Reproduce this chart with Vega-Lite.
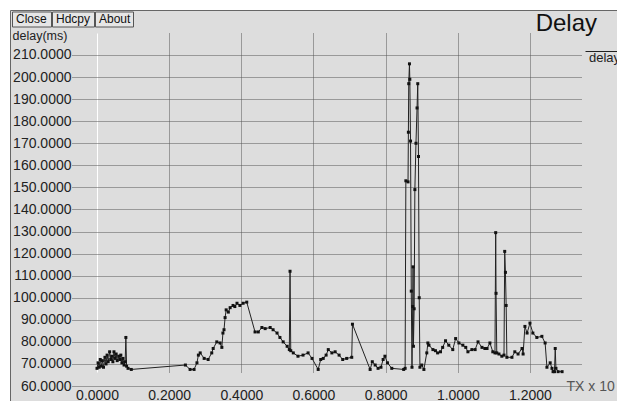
{
  "$schema": "https://vega.github.io/schema/vega-lite/v6.json",
  "autosize": {"type": "none"},
  "padding": {"left": 10, "top": 10, "right": 0, "bottom": 0},
  "width": 610,
  "height": 400,
  "background": "#ffffff",
  "config": {
    "view": {"fill": "#dddddd", "stroke": "#666666", "strokeWidth": 1},
    "font": "Liberation Sans"
  },
  "title": {
    "text": "Delay",
    "anchor": "end",
    "font": "Liberation Sans",
    "fontSize": 24,
    "fontWeight": "normal",
    "color": "#111111",
    "offset": 0,
    "dx": -25,
    "dy": 26
  },
  "data": {
    "values": [
      {"tx": 0.000, "delay": 68.0}, {"tx": 0.003, "delay": 70.5}, {"tx": 0.006, "delay": 68.5},
      {"tx": 0.009, "delay": 72.0}, {"tx": 0.012, "delay": 69.0}, {"tx": 0.015, "delay": 71.5},
      {"tx": 0.018, "delay": 68.5}, {"tx": 0.022, "delay": 73.0}, {"tx": 0.025, "delay": 70.0},
      {"tx": 0.028, "delay": 74.0}, {"tx": 0.031, "delay": 71.0}, {"tx": 0.035, "delay": 75.5},
      {"tx": 0.038, "delay": 72.0}, {"tx": 0.041, "delay": 73.5}, {"tx": 0.044, "delay": 71.0},
      {"tx": 0.047, "delay": 75.5}, {"tx": 0.050, "delay": 72.5}, {"tx": 0.053, "delay": 74.5},
      {"tx": 0.056, "delay": 71.5}, {"tx": 0.060, "delay": 73.5}, {"tx": 0.063, "delay": 72.0},
      {"tx": 0.066, "delay": 74.0}, {"tx": 0.069, "delay": 70.5}, {"tx": 0.072, "delay": 72.5},
      {"tx": 0.075, "delay": 69.5}, {"tx": 0.078, "delay": 71.0}, {"tx": 0.080, "delay": 82.0},
      {"tx": 0.082, "delay": 69.0}, {"tx": 0.086, "delay": 68.0}, {"tx": 0.095, "delay": 67.5},
      {"tx": 0.245, "delay": 69.5}, {"tx": 0.258, "delay": 67.5}, {"tx": 0.269, "delay": 67.5},
      {"tx": 0.277, "delay": 70.5}, {"tx": 0.281, "delay": 74.0}, {"tx": 0.286, "delay": 75.0},
      {"tx": 0.297, "delay": 72.5}, {"tx": 0.308, "delay": 72.0}, {"tx": 0.318, "delay": 75.0},
      {"tx": 0.322, "delay": 77.0}, {"tx": 0.332, "delay": 80.0}, {"tx": 0.341, "delay": 79.5},
      {"tx": 0.346, "delay": 77.5}, {"tx": 0.349, "delay": 84.0}, {"tx": 0.352, "delay": 85.5},
      {"tx": 0.355, "delay": 91.0}, {"tx": 0.358, "delay": 94.5}, {"tx": 0.364, "delay": 93.5},
      {"tx": 0.369, "delay": 95.5}, {"tx": 0.377, "delay": 96.5}, {"tx": 0.382, "delay": 96.0},
      {"tx": 0.388, "delay": 97.5}, {"tx": 0.396, "delay": 96.5}, {"tx": 0.405, "delay": 97.5},
      {"tx": 0.415, "delay": 98.0}, {"tx": 0.438, "delay": 84.5}, {"tx": 0.447, "delay": 84.5},
      {"tx": 0.457, "delay": 86.5}, {"tx": 0.466, "delay": 86.0}, {"tx": 0.480, "delay": 86.5},
      {"tx": 0.488, "delay": 85.5}, {"tx": 0.499, "delay": 84.0}, {"tx": 0.507, "delay": 82.0},
      {"tx": 0.516, "delay": 80.0}, {"tx": 0.527, "delay": 78.0}, {"tx": 0.533, "delay": 76.5},
      {"tx": 0.535, "delay": 112.0}, {"tx": 0.537, "delay": 76.0}, {"tx": 0.544, "delay": 75.0},
      {"tx": 0.557, "delay": 73.5}, {"tx": 0.571, "delay": 74.0}, {"tx": 0.585, "delay": 75.0},
      {"tx": 0.596, "delay": 72.5}, {"tx": 0.613, "delay": 67.5}, {"tx": 0.620, "delay": 72.0},
      {"tx": 0.627, "delay": 72.5}, {"tx": 0.635, "delay": 74.0}, {"tx": 0.641, "delay": 76.5},
      {"tx": 0.651, "delay": 75.0}, {"tx": 0.660, "delay": 75.5}, {"tx": 0.671, "delay": 74.0},
      {"tx": 0.681, "delay": 72.0}, {"tx": 0.692, "delay": 72.5}, {"tx": 0.706, "delay": 73.0},
      {"tx": 0.708, "delay": 88.0}, {"tx": 0.757, "delay": 67.5}, {"tx": 0.763, "delay": 71.0},
      {"tx": 0.771, "delay": 69.5}, {"tx": 0.779, "delay": 68.0}, {"tx": 0.787, "delay": 68.5},
      {"tx": 0.793, "delay": 72.0}, {"tx": 0.798, "delay": 73.5}, {"tx": 0.805, "delay": 70.5},
      {"tx": 0.817, "delay": 68.0}, {"tx": 0.850, "delay": 67.5}, {"tx": 0.854, "delay": 68.0},
      {"tx": 0.856, "delay": 153.0}, {"tx": 0.862, "delay": 152.5}, {"tx": 0.863, "delay": 175.0},
      {"tx": 0.864, "delay": 197.0}, {"tx": 0.866, "delay": 206.0}, {"tx": 0.867, "delay": 199.0},
      {"tx": 0.869, "delay": 171.0}, {"tx": 0.871, "delay": 103.0}, {"tx": 0.873, "delay": 68.5},
      {"tx": 0.875, "delay": 96.0}, {"tx": 0.876, "delay": 114.0}, {"tx": 0.877, "delay": 78.0},
      {"tx": 0.879, "delay": 95.0}, {"tx": 0.881, "delay": 149.0}, {"tx": 0.884, "delay": 170.0},
      {"tx": 0.887, "delay": 186.0}, {"tx": 0.889, "delay": 197.0}, {"tx": 0.891, "delay": 164.0},
      {"tx": 0.893, "delay": 100.0}, {"tx": 0.895, "delay": 68.5}, {"tx": 0.900, "delay": 69.5},
      {"tx": 0.906, "delay": 67.5}, {"tx": 0.914, "delay": 75.0}, {"tx": 0.917, "delay": 79.5},
      {"tx": 0.920, "delay": 78.5}, {"tx": 0.931, "delay": 76.5}, {"tx": 0.938, "delay": 76.0},
      {"tx": 0.944, "delay": 75.0}, {"tx": 0.952, "delay": 75.5}, {"tx": 0.958, "delay": 77.5},
      {"tx": 0.966, "delay": 80.5}, {"tx": 0.975, "delay": 78.5}, {"tx": 0.986, "delay": 76.5},
      {"tx": 0.994, "delay": 81.5}, {"tx": 1.003, "delay": 79.5}, {"tx": 1.014, "delay": 78.5},
      {"tx": 1.022, "delay": 77.5}, {"tx": 1.028, "delay": 75.5}, {"tx": 1.039, "delay": 76.5},
      {"tx": 1.048, "delay": 76.5}, {"tx": 1.056, "delay": 80.0}, {"tx": 1.067, "delay": 77.5},
      {"tx": 1.075, "delay": 77.0}, {"tx": 1.081, "delay": 77.0}, {"tx": 1.089, "delay": 79.5},
      {"tx": 1.097, "delay": 75.5}, {"tx": 1.103, "delay": 75.0}, {"tx": 1.105, "delay": 129.5},
      {"tx": 1.106, "delay": 102.0}, {"tx": 1.108, "delay": 75.0}, {"tx": 1.114, "delay": 74.5},
      {"tx": 1.122, "delay": 73.5}, {"tx": 1.128, "delay": 74.0}, {"tx": 1.130, "delay": 121.0},
      {"tx": 1.132, "delay": 111.5}, {"tx": 1.134, "delay": 96.5}, {"tx": 1.136, "delay": 73.0},
      {"tx": 1.150, "delay": 73.0}, {"tx": 1.158, "delay": 75.5}, {"tx": 1.167, "delay": 74.5},
      {"tx": 1.178, "delay": 77.0}, {"tx": 1.181, "delay": 74.5}, {"tx": 1.186, "delay": 87.0},
      {"tx": 1.192, "delay": 84.0}, {"tx": 1.200, "delay": 88.5}, {"tx": 1.208, "delay": 84.0},
      {"tx": 1.219, "delay": 82.0}, {"tx": 1.233, "delay": 82.5}, {"tx": 1.242, "delay": 79.5},
      {"tx": 1.247, "delay": 68.5}, {"tx": 1.256, "delay": 70.5}, {"tx": 1.261, "delay": 68.0},
      {"tx": 1.264, "delay": 66.5}, {"tx": 1.268, "delay": 66.5}, {"tx": 1.270, "delay": 77.0},
      {"tx": 1.272, "delay": 68.0}, {"tx": 1.278, "delay": 66.5}, {"tx": 1.289, "delay": 66.5}
    ]
  },
  "encoding": {
    "x": {
      "field": "tx",
      "type": "quantitative",
      "scale": {"domain": [-0.0693, 1.3442], "range": [62, 572], "nice": false, "zero": false},
      "axis": {
        "orient": "bottom",
        "offset": -23,
        "values": [0, 0.2, 0.4, 0.6, 0.8, 1.0, 1.2],
        "format": ".4f",
        "domain": false,
        "ticks": false,
        "labelPadding": 1,
        "labelFont": "Liberation Sans",
        "labelFontSize": 14,
        "labelColor": "#222222",
        "grid": true,
        "gridColor": {"condition": {"test": "datum.value === 0", "value": "#ffffff"}, "value": "#555555"},
        "gridDash": {"condition": {"test": "datum.value === 0", "value": []}, "value": [1, 1]},
        "gridWidth": 1,
        "title": "TX x 10",
        "titleFont": "Liberation Sans",
        "titleFontSize": 14,
        "titleFontWeight": "normal",
        "titleColor": "#555555",
        "titleAlign": "left",
        "titleBaseline": "alphabetic",
        "titleX": 556,
        "titleY": 3
      }
    },
    "y": {
      "field": "delay",
      "type": "quantitative",
      "scale": {"domain": [59.547, 213.172], "range": [377, 38], "nice": false, "zero": false},
      "axis": {
        "orient": "left",
        "offset": -62,
        "values": [60, 70, 80, 90, 100, 110, 120, 130, 140, 150, 160, 170, 180, 190, 200, 210],
        "format": ".4f",
        "domain": false,
        "ticks": false,
        "labelPadding": 1,
        "labelFont": "Liberation Sans",
        "labelFontSize": 14,
        "labelColor": "#222222",
        "grid": true,
        "gridColor": "#555555",
        "gridDash": [1, 1],
        "gridWidth": 1,
        "title": "delay(ms)",
        "titleFont": "Liberation Sans",
        "titleFontSize": 12.5,
        "titleFontWeight": "normal",
        "titleColor": "#222222",
        "titleAngle": 0,
        "titleAlign": "left",
        "titleBaseline": "alphabetic",
        "titleX": -60,
        "titleY": 29
      }
    }
  },
  "layer": [
    {
      "mark": {"type": "line", "strokeWidth": 1, "interpolate": "linear"},
      "encoding": {
        "color": {
          "datum": "delay",
          "scale": {"range": ["#222222"]},
          "legend": {
            "orient": "none",
            "legendX": 575,
            "legendY": 24,
            "title": null,
            "padding": 0,
            "symbolType": "stroke",
            "symbolSize": 1156,
            "symbolStrokeWidth": 1,
            "symbolStrokeColor": "#222222",
            "labelFont": "Liberation Sans",
            "labelFontSize": 13,
            "labelColor": "#222222",
            "labelBaseline": "top",
            "labelOffset": -31
          }
        }
      }
    },
    {
      "mark": {"type": "point", "shape": "square", "size": 9, "filled": true, "color": "#111111", "opacity": 1}
    },
    {
      "transform": [{"filter": "false"}],
      "mark": {"type": "point", "filled": true, "opacity": 1},
      "encoding": {
        "fill": {
          "datum": "Close",
          "legend": {
            "orient": "none", "legendX": 2, "legendY": 1.5, "title": null,
            "padding": 1.5, "fillColor": "#e6e6e6", "strokeColor": "#555555",
            "symbolSize": 1, "symbolOpacity": 0, "symbolStrokeWidth": 0, "symbolOffset": 29,
            "labelOffset": -38.5, "labelFont": "Liberation Sans", "labelFontSize": 12, "labelColor": "#111111"
          }
        }
      }
    },
    {
      "transform": [{"filter": "false"}],
      "mark": {"type": "point", "filled": false, "opacity": 1},
      "encoding": {
        "stroke": {
          "datum": "Hdcpy",
          "legend": {
            "orient": "none", "legendX": 42, "legendY": 1.5, "title": null,
            "padding": 1.5, "fillColor": "#e6e6e6", "strokeColor": "#555555",
            "symbolSize": 1, "symbolOpacity": 0, "symbolStrokeWidth": 0, "symbolOffset": 32,
            "labelOffset": -41.5, "labelFont": "Liberation Sans", "labelFontSize": 12, "labelColor": "#111111"
          }
        }
      }
    },
    {
      "transform": [{"filter": "false"}],
      "mark": {"type": "point", "filled": true, "opacity": 1},
      "encoding": {
        "shape": {
          "datum": "About",
          "legend": {
            "orient": "none", "legendX": 85, "legendY": 1.5, "title": null,
            "padding": 1.5, "fillColor": "#e6e6e6", "strokeColor": "#555555",
            "symbolSize": 1, "symbolOpacity": 0, "symbolStrokeWidth": 0, "symbolOffset": 28,
            "labelOffset": -37.5, "labelFont": "Liberation Sans", "labelFontSize": 12, "labelColor": "#111111"
          }
        }
      }
    }
  ]
}
